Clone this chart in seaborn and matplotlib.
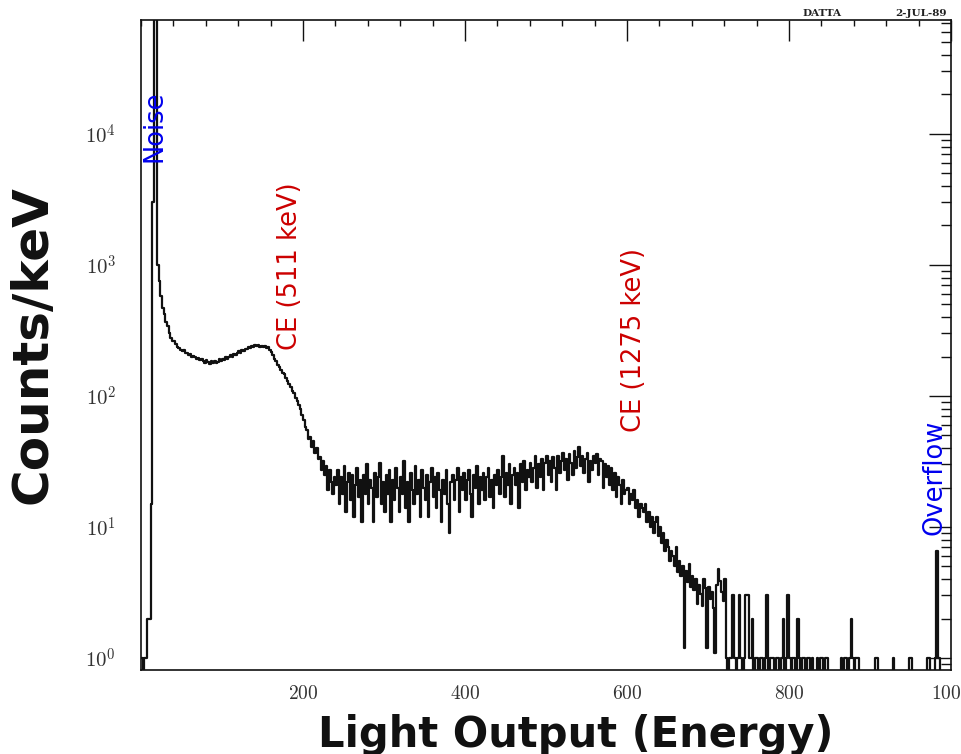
import numpy as np
import pandas as pd
import matplotlib
matplotlib.use("Agg")
import matplotlib.pyplot as plt
import seaborn as sns
from matplotlib.ticker import FixedLocator, LogLocator, MultipleLocator, FuncFormatter, NullFormatter

# Pulse-height spectrum, counts per 2-channel bin
BIN_WIDTH = 2

# channels 0-38: pedestal and noise peak
noise_region = [1, 0, 1, 1, 2, 2, 15, 3000, 200000, 120000,
                1000, 750, 580, 470, 420, 370, 340, 300, 275, 262]

# channels 40-238: Compton edge of the 511 keV line
compton_511 = [
    262, 248, 237, 233, 226, 219, 224, 211, 213, 206,
    210, 198, 203, 199, 190, 196, 187, 192, 185, 180,
    188, 181, 176, 184, 179, 186, 180, 183, 190, 185,
    192, 188, 197, 193, 199, 204, 197, 209, 205, 214,
    219, 213, 226, 222, 230, 228, 236, 231, 241, 238,
    244, 239, 246, 237, 241, 236, 239, 233, 236, 226,
    216, 204, 193, 185, 173, 165, 158, 150, 147, 136,
    131, 124, 117, 109, 106, 96, 92, 86, 80, 71,
    66, 58, 55, 47, 49, 41, 45, 37, 40, 33,
    34, 27, 32, 25, 29, 19, 27, 22, 18, 24,
]

# channels 240-418: flat region between the edges
plateau = [
    21, 27, 15, 24, 18, 29, 13, 22, 26, 16,
    25, 12, 21, 28, 17, 23, 11, 25, 18, 30,
    15, 23, 20, 11, 26, 17, 24, 31, 15, 22,
    13, 25, 18, 27, 11, 23, 16, 28, 20, 13,
    24, 18, 32, 14, 22, 11, 26, 19, 15, 29,
    18, 23, 12, 27, 20, 16, 25, 12, 22, 28,
    17, 24, 14, 26, 19, 11, 23, 18, 27, 15,
    9, 22, 25, 16, 23, 28, 13, 24, 19, 26,
    16, 23, 27, 18, 12, 25, 20, 29, 15, 24,
]

# channels 420-718: Compton edge of the 1275 keV line
compton_1275 = [
    19, 26, 16, 24, 28, 17, 23, 14, 25, 21,
    27, 18, 24, 35, 17, 26, 21, 30, 15, 25,
    28, 21, 26, 14, 30, 22, 32, 19, 27, 24,
    31, 22, 28, 35, 20, 30, 24, 33, 19, 31,
    35, 25, 32, 22, 34, 28, 19, 35, 26, 32,
    37, 27, 33, 23, 36, 31, 25, 38, 28, 34,
    41, 29, 35, 26, 33, 37, 22, 32, 27, 35,
    31, 36, 25, 33, 32, 20, 30, 24, 29, 21,
    28, 19, 26, 17, 24, 21, 15, 23, 18, 19,
    20, 15, 18, 16, 19, 14, 16, 12, 15, 14,
    13, 15, 11, 13, 10, 12, 9, 11, 12, 8.5,
    10, 7.5, 9, 6.5, 8, 7, 5.5, 6.5, 6, 5,
    7, 4.5, 5.5, 4.2, 5, 1.2, 4.6, 3.8, 5.2, 3.5,
    4.2, 3.3, 4, 2.6, 3.6, 3.1, 2.5, 4, 3.4, 1.2,
    3.5, 2.8, 3.2, 2.4, 1.1, 3.6, 4.8, 3.9, 3.2, 2.7,
]

# channels 720-998: sparse tail and overflow bin
tail = [
    4, 1, 0, 1, 1, 3, 1, 0, 1, 3,
    1, 0, 1, 3, 3, 1, 1, 2, 0, 1,
    1, 0, 1, 1, 0, 1, 3, 0, 1, 1,
    1, 0, 1, 1, 0, 1, 2, 0, 1, 3,
    1, 0, 1, 1, 0, 2, 1, 0, 1, 1,
    0, 1, 1, 0, 1, 0, 0, 1, 0, 1,
    1, 0, 1, 1, 0, 0, 0, 0, 0, 0,
    0, 0, 1, 0, 1, 1, 0, 1, 2, 1,
    0, 1, 1, 0, 0, 0, 0, 0, 0, 0,
    0, 0, 0, 1, 1, 0, 0, 0, 0, 0,
    0, 0, 0, 0, 1, 0, 0, 0, 0, 0,
    0, 0, 0, 0, 1, 1, 0, 0, 0, 0,
    0, 0, 0, 0, 0, 1, 1, 0, 0, 0,
    1, 6.5, 1, 0, 0, 0, 0, 0, 0, 0,
]

x_ticks = [200, 400, 600, 800, 1000]

counts = np.array(noise_region + compton_511 + plateau + compton_1275 + tail, dtype=float)
channel = np.arange(counts.size) * BIN_WIDTH
channel = np.append(channel, channel[-1] + BIN_WIDTH)
counts = np.append(counts, counts[-1])
# empty bins drop below the visible log range
df = pd.DataFrame({"channel": channel, "counts": np.where(counts > 0, counts, 0.3)})

sns.set_style("white")
plt.rcParams["font.family"] = ["DejaVu Sans"]
plt.rcParams["mathtext.fontset"] = "cm"

fig = plt.figure(figsize=(9.61, 7.54), dpi=100)
W, H = 961, 754
ax = fig.add_axes([141 / W, 1 - 670 / H, (951 - 141) / W, (670 - 20) / H])

sns.lineplot(data=df, x="channel", y="counts", drawstyle="steps-post",
             color="#111111", linewidth=1.6, estimator=None, ax=ax)

ax.set_yscale("log")
ax.set_xlim(0, 1000)
ax.set_ylim(0.81, 7.4e4)
ax.set_xlabel("")
ax.set_ylabel("")

ax.xaxis.set_major_locator(FixedLocator(x_ticks))
ax.xaxis.set_minor_locator(MultipleLocator(40))
ax.xaxis.set_major_formatter(FuncFormatter(lambda v, p: f"${int(v)}$"))
ax.yaxis.set_major_locator(LogLocator(base=10))
ax.yaxis.set_minor_locator(LogLocator(base=10, subs=np.arange(2, 10)))
ax.yaxis.set_major_formatter(FuncFormatter(lambda v, p: r"$10^{%d}$" % round(np.log10(v))))
ax.yaxis.set_minor_formatter(NullFormatter())

ax.tick_params(axis="both", which="both", direction="in", top=True, right=True,
               color="#111111", width=1.0)
ax.tick_params(axis="x", which="major", length=15, pad=10, labelsize=14, labelcolor="#333333")
ax.tick_params(axis="x", which="minor", length=4.5)
ax.tick_params(axis="y", which="major", length=16, pad=18, labelsize=15, labelcolor="#333333")
ax.tick_params(axis="y", which="minor", length=7)
for s in ax.spines.values():
    s.set_visible(True)
    s.set_linewidth(1.2)
    s.set_color("#111111")

ann = dict(rotation=90, ha="center", va="bottom", fontsize=18.5)
ax.text(17, 6100, "Noise", color="#0000ee", **ann)
ax.text(184, 224, "CE (511 keV)", color="#cc0000", **ann)
ax.text(609, 53, "CE (1275 keV)", color="#cc0000", **ann)
ax.text(980, 8.7, "Overflow", color="#0000ee", **ann)

fig.text(33 / W, 1 - 345 / H, "Counts/keV", rotation=90, ha="center", va="center",
         fontsize=36, fontweight="bold", color="#111111")
fig.text(575.5 / W, 7 / H, "Light Output (Energy)", ha="center", va="baseline",
         fontsize=30, fontweight="bold", color="#111111")

fig.text(822 / W, 1 - 14 / H, "DATTA", ha="center", va="center", fontsize=7.5,
         fontweight="bold", family="DejaVu Serif", color="#222222")
fig.text(921 / W, 1 - 14 / H, "2-JUL-89", ha="center", va="center", fontsize=7.5,
         fontweight="bold", family="DejaVu Serif", color="#222222")

fig.savefig("out.png", dpi=100)
